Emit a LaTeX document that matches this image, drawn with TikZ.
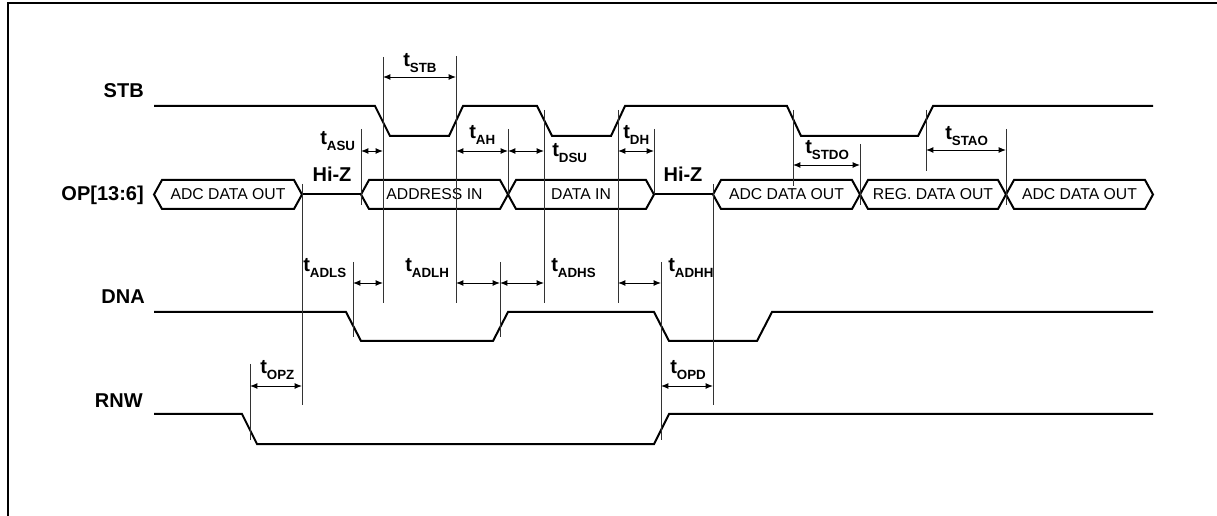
\documentclass[tikz,border=0pt]{standalone}
\usepackage{fontspec}
\setmainfont{Liberation Sans}
\usetikzlibrary{arrows.meta}
\newcommand{\tlab}[1]{{\fontsize{15}{15}\selectfont\bfseries t}\raisebox{-4pt}{\fontsize{10}{10}\selectfont\bfseries #1}}
\begin{document}
\begin{tikzpicture}[
        x=0.75pt, y=-0.75pt,
        wave/.style={line width=1.5pt},
        bus/.style={line width=1.5pt},
        guide/.style={line width=0.7pt, black!80},
        dimline/.style={line width=0.7pt, {Latex[length=5.5pt,width=4.4pt]}-{Latex[length=5.5pt,width=4.4pt]}},
        signame/.style={anchor=base east, inner sep=0pt, font=\fontsize{15}{15}\selectfont\bfseries},
        busname/.style={anchor=base, inner sep=0pt, font=\fontsize{11.8}{12}\selectfont},
        timing/.style={anchor=west, inner sep=0pt}
    ]
    \useasboundingbox (0,0) rectangle (1217,516);
    \draw[line width=1.5pt] (1230,3) -- (8,3) -- (8,530);

    \node[signame] (stb) at (144,98) {STB};
    \node[signame] (op) at (144,201) {OP[13:6]};
    \node[signame] (dna) at (145,304) {DNA};
    \node[signame] (rnw) at (143,407) {RNW};

    \draw[wave] (154,106) -- (375,106) -- (390,136) -- (449,136) -- (463,106) -- (537,106)
        -- (552,136) -- (611,136) -- (625,106) -- (787,106) -- (801,136) -- (918,136)
        -- (933,106) -- (1153,106);
    \draw[wave] (154,312) -- (346,312) -- (361,341) -- (493,341) -- (508,312) -- (654,312)
        -- (669,341) -- (757,341) -- (772,312) -- (1153,312);
    \draw[wave] (154,414) -- (242,414) -- (257,444) -- (654,444) -- (669,414) -- (1153,414);

    \foreach \a/\b/\txt/\nm in {154/302/ADC DATA OUT/adcA, 361/508/ADDRESS IN/addr,
            508/654/DATA IN/data, 713/860/ADC DATA OUT/adcB,
            860/1006/REG. DATA OUT/reg, 1006/1153/ADC DATA OUT/adcC} {
        \draw[bus] (\a,194.5) -- (\a+8,180) -- (\b-8,180) -- (\b,194.5) -- (\b-8,209) -- (\a+8,209) -- cycle;
        \node[busname] (\nm) at ({(\a+\b)/2},200) {\txt};
    }
    \draw[bus] (302,194.5) -- (361,194.5);
    \draw[bus] (654,194.5) -- (713,194.5);
    \node[signame, anchor=base] (hizA) at (332,182) {Hi-Z};
    \node[signame, anchor=base] (hizB) at (683,182) {Hi-Z};

    \foreach \x/\ya/\yb in {383/57/303, 456/56/303, 361/129/205, 302/184/405, 250/364/440,
            353/262/337, 500/262/337, 508/129/194, 544/110/303, 618/110/303, 654/129/194,
            661/262/440, 713/184/405, 793/110/186, 860/144/205, 926/110/171, 1006/129/205}
        \draw[guide] (\x,\ya) -- (\x,\yb);

    \foreach \y/\xa/\xb in {77/383/456, 151/361/383, 151/456/508, 151/508/544, 151/618/654,
            165/793/860, 150/926/1006, 283/353/383, 283/456/500, 283/500/544,
            283/618/661, 386/250/302, 386/661/713}
        \draw[dimline] (\xa,\y) -- (\xb,\y);

    \node[timing] (tstb) at (403,63) {\tlab{STB}};
    \node[timing] (tasu) at (320,141) {\tlab{ASU}};
    \node[timing] (tah) at (469,135) {\tlab{AH}};
    \node[timing] (tdsu) at (552,153) {\tlab{DSU}};
    \node[timing] (tdh) at (623,135) {\tlab{DH}};
    \node[timing] (tstdo) at (805,150) {\tlab{STDO}};
    \node[timing] (tstao) at (945,136) {\tlab{STAO}};
    \node[timing] (tadls) at (303,268) {\tlab{ADLS}};
    \node[timing] (tadlh) at (405,268) {\tlab{ADLH}};
    \node[timing] (tadhs) at (551,268) {\tlab{ADHS}};
    \node[timing] (tadhh) at (668,268) {\tlab{ADHH}};
    \node[timing] (topz) at (260,370) {\tlab{OPZ}};
    \node[timing] (topd) at (670,370) {\tlab{OPD}};
\end{tikzpicture}
\end{document}
